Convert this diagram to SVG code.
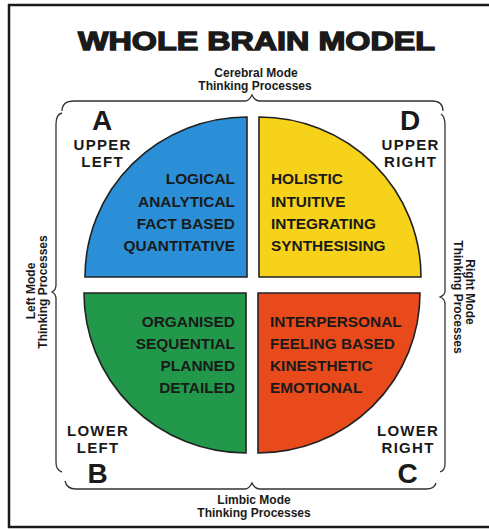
<svg xmlns="http://www.w3.org/2000/svg" width="489" height="531" viewBox="0 0 489 531">
<style>
text{font-family:"Liberation Sans",Arial,sans-serif;font-weight:bold;fill:#1a1a1a}
.q{font-size:15.4px}
.mode{font-size:12px;text-anchor:middle}
.lbl{text-anchor:middle}
.big{font-size:28px}
.pos{font-size:15px;letter-spacing:1.3px}
.quad{stroke:#222;stroke-width:1.6}
.brace{fill:none;stroke:#333;stroke-width:1.3}
</style>
<rect x="0" y="0" width="489" height="531" fill="#fff"/>
<rect x="9" y="5" width="500" height="522" fill="none" stroke="#1a1a1a" stroke-width="2.5"/>
<g id="title"><text x="256.5" y="50" font-size="25" text-anchor="middle" textLength="357" lengthAdjust="spacingAndGlyphs" stroke="#1a1a1a" stroke-width="1.3">WHOLE BRAIN MODEL</text></g>
<g id="braces">
<path class="brace" d="M62,111 C62,105 66,101 74,101 L245,101 Q249,101 252,95 Q255,101 259,101 L432,101 C440,101 443,105 443,111"/>
<path class="brace" d="M62,113 C58,114 56,117 56,124 L56,285 Q56,290 52,292 Q56,294 56,299 L56,462 C56,468 58,471 62,472"/>
<path class="brace" d="M441,114 C444,116 445,119 445,125 L445,291 Q445,295 440,297 Q445,299 445,304 L445,464 C445,469 443,471 440,472"/>
<path class="brace" d="M65,481 C66,486 69,489 76,489 L245,489 Q249,489 252,483 Q255,489 259,489 L426,489 C432,489 435,487 436,483"/>
</g>
<g id="quadA">
<path class="quad" fill="#2a8fd6" d="M247,277 L85,277 A162 160 0 0 1 247,117 Z"/>
<text class="q" text-anchor="end"><tspan x="235" y="184">LOGICAL</tspan><tspan x="235" y="207">ANALYTICAL</tspan><tspan x="235" y="229">FACT BASED</tspan><tspan x="235" y="251">QUANTITATIVE</tspan></text>
</g>
<g id="quadD">
<path class="quad" fill="#f6d31a" d="M259,277 L259,117 A162 160 0 0 1 421,277 Z"/>
<text class="q"><tspan x="271" y="184">HOLISTIC</tspan><tspan x="271" y="207">INTUITIVE</tspan><tspan x="271" y="229">INTEGRATING</tspan><tspan x="271" y="251">SYNTHESISING</tspan></text>
</g>
<g id="quadB">
<path class="quad" fill="#22994a" d="M246,293 L246,453 A162 160 0 0 1 84,293 Z"/>
<text class="q" text-anchor="end"><tspan x="235" y="327">ORGANISED</tspan><tspan x="235" y="349">SEQUENTIAL</tspan><tspan x="235" y="371">PLANNED</tspan><tspan x="235" y="393">DETAILED</tspan></text>
</g>
<g id="quadC">
<path class="quad" fill="#e84a1c" d="M258,293 L420,293 A162 160 0 0 1 258,453 Z"/>
<text class="q"><tspan x="270" y="327">INTERPERSONAL</tspan><tspan x="270" y="349">FEELING BASED</tspan><tspan x="270" y="371">KINESTHETIC</tspan><tspan x="270" y="393">EMOTIONAL</tspan></text>
</g>
<g id="labelA">
<text class="lbl"><tspan class="big" x="102" y="130">A</tspan><tspan class="pos" x="102.6" y="150">UPPER</tspan><tspan class="pos" x="102.6" y="167">LEFT</tspan></text>
</g>
<g id="labelD">
<text class="lbl"><tspan class="big" x="410" y="130">D</tspan><tspan class="pos" x="410.6" y="150">UPPER</tspan><tspan class="pos" x="410.6" y="167">RIGHT</tspan></text>
</g>
<g id="labelB">
<text class="lbl"><tspan class="pos" x="98.1" y="436">LOWER</tspan><tspan class="pos" x="98.1" y="453">LEFT</tspan><tspan class="big" x="97.5" y="483">B</tspan></text>
</g>
<g id="labelC">
<text class="lbl"><tspan class="pos" x="408.1" y="436">LOWER</tspan><tspan class="pos" x="408.1" y="453">RIGHT</tspan><tspan class="big" x="407.5" y="483">C</tspan></text>
</g>
<g id="cerebral">
<text class="mode"><tspan x="256" y="77">Cerebral Mode</tspan><tspan x="255" y="90">Thinking Processes</tspan></text>
</g>
<g id="limbic">
<text class="mode"><tspan x="254" y="504">Limbic Mode</tspan><tspan x="254" y="517">Thinking Processes</tspan></text>
</g>
<g id="leftmode">
<text class="mode" transform="translate(35,291) rotate(-90)"><tspan x="0" y="0">Left Mode</tspan><tspan x="-1" y="12">Thinking Processes</tspan></text>
</g>
<g id="rightmode">
<text class="mode" transform="translate(466,292) rotate(90)"><tspan x="0" y="0">Right Mode</tspan><tspan x="5" y="12">Thinking Processes</tspan></text>
</g>
</svg>
